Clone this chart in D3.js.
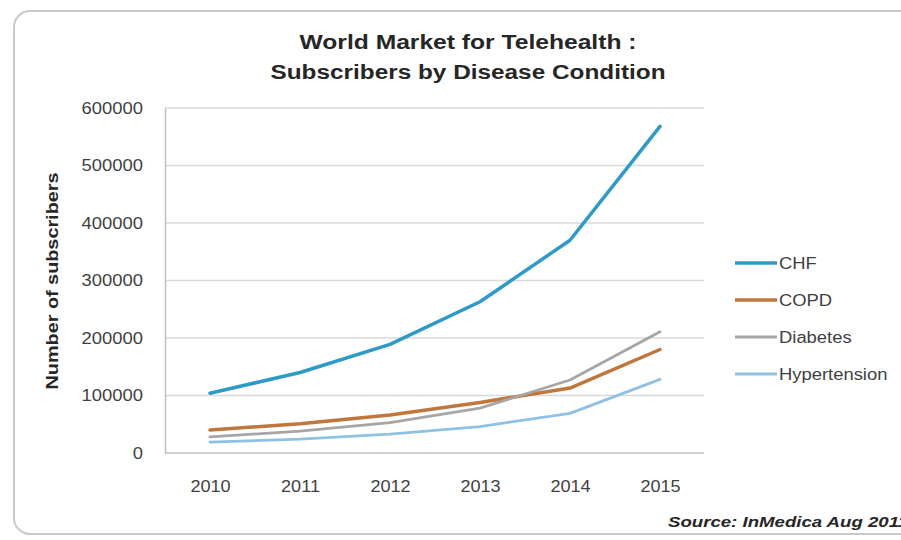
<!DOCTYPE html>
<html>
<head>
<meta charset="utf-8">
<script src="https://cdn.jsdelivr.net/npm/d3@7"></script>
<style>
  html, body { margin: 0; padding: 0; background: #ffffff; overflow: hidden; }
  svg { display: block; overflow: hidden; }
  text { font-family: "Liberation Sans", Arial, sans-serif; }
</style>
</head>
<body>
<svg id="chart" width="901" height="540"></svg>
<script>
// ---- data ----
const years = ["2010", "2011", "2012", "2013", "2014", "2015"];
const seriesNames = ["CHF", "COPD", "Diabetes", "Hypertension"];
const chf = [104000, 140000, 189000, 263000, 370000, 568000];
const copd = [40000, 51000, 66000, 88000, 113000, 180000];
const diabetes = [28000, 38000, 53000, 78000, 127000, 211000];
const hypertension = [19000, 24000, 33000, 46000, 69000, 128000];
const seriesColors = ["#2e9ac6", "#c0773d", "#a6a6a6", "#8fc1e3"];
const yTicks = [0, 100000, 200000, 300000, 400000, 500000, 600000];
const titleLines = ["World Market for Telehealth :", "Subscribers by Disease Condition"];
const yAxisTitle = "Number of subscribers";
const sourceText = "Source: InMedica Aug 2011";

const seriesValues = [chf, copd, diabetes, hypertension];
const series = seriesNames.map((n, i) => ({ name: n, values: seriesValues[i], color: seriesColors[i] }));

const svg = d3.select("#chart");

// stretch helper (reference text is horizontally widened)
function stretch(sel, factor) {
  sel.each(function () {
    const len = this.getComputedTextLength();
    d3.select(this).attr("textLength", len * factor).attr("lengthAdjust", "spacingAndGlyphs");
  });
  return sel;
}

// frame
svg.append("rect")
  .attr("x", 14).attr("y", 11)
  .attr("width", 930).attr("height", 523)
  .attr("rx", 16).attr("ry", 16)
  .attr("fill", "#ffffff")
  .attr("stroke", "#c9c9c9").attr("stroke-width", 2);

// scales
const x = d3.scalePoint().domain(years).range([165, 705]).padding(0.5);
const y = d3.scaleLinear().domain([0, 600000]).range([453, 108]);

// gridlines
svg.append("g")
  .selectAll("line")
  .data(yTicks.filter(d => d > 0))
  .join("line")
  .attr("x1", 165).attr("x2", 704)
  .attr("y1", d => y(d)).attr("y2", d => y(d))
  .attr("stroke", "#d9d9d9").attr("stroke-width", 1.5);

// y axis
const yAxis = svg.append("g")
  .attr("transform", "translate(165,0)")
  .call(d3.axisLeft(y).tickValues(yTicks).tickSize(0).tickPadding(22).tickFormat(d3.format("d")));
yAxis.select(".domain").attr("stroke", "#bfbfbf").attr("stroke-width", 1.5);
yAxis.selectAll("text")
  .attr("font-size", 16)
  .attr("fill", "#3f3f3f")
  .attr("font-family", "'Liberation Sans', Arial, sans-serif");
stretch(yAxis.selectAll("text"), 1.15);

// x axis
const xAxis = svg.append("g")
  .attr("transform", "translate(0,453)")
  .call(d3.axisBottom(x).tickSize(0).tickPadding(28));
xAxis.select(".domain").attr("stroke", "#bfbfbf").attr("stroke-width", 1.5)
  .attr("d", "M165,0H704");
xAxis.selectAll("text")
  .attr("font-size", 16)
  .attr("fill", "#3f3f3f")
  .attr("font-family", "'Liberation Sans', Arial, sans-serif");
stretch(xAxis.selectAll("text"), 1.13);

// lines
const line = d3.line()
  .x((d, i) => x(years[i]))
  .y(d => y(d))
  .curve(d3.curveLinear);

svg.append("g")
  .selectAll("path")
  .data(series)
  .join("path")
  .attr("d", d => line(d.values))
  .attr("fill", "none")
  .attr("stroke", d => d.color)
  .attr("stroke-width", (d, i) => i < 2 ? 3.5 : 2.8)
  .attr("stroke-linecap", "round")
  .attr("stroke-linejoin", "round");

// title
const title = svg.append("text")
  .attr("text-anchor", "middle")
  .attr("font-weight", "bold")
  .attr("font-size", 20)
  .attr("fill", "#262626");
title.selectAll("tspan")
  .data(titleLines)
  .join("tspan")
  .attr("x", 468)
  .attr("y", (d, i) => 49 + i * 30)
  .text(d => d);
title.selectAll("tspan").each(function (d, i) {
  d3.select(this).attr("textLength", i === 0 ? 337 : 395).attr("lengthAdjust", "spacingAndGlyphs");
});

// y axis title
svg.append("text")
  .attr("transform", "translate(58,281) rotate(-90)")
  .attr("text-anchor", "middle")
  .attr("font-weight", "bold")
  .attr("font-size", 16)
  .attr("fill", "#262626")
  .attr("textLength", 217)
  .attr("lengthAdjust", "spacingAndGlyphs")
  .text(yAxisTitle);

// legend
const legendYs = d3.scalePoint().domain(seriesNames).range([263, 374]);
const legend = svg.append("g")
  .selectAll("g")
  .data(series)
  .join("g")
  .attr("transform", d => `translate(735,${legendYs(d.name)})`);
legend.append("line")
  .attr("x1", 0).attr("x2", 42)
  .attr("stroke", d => d.color)
  .attr("stroke-width", (d, i) => i < 2 ? 3.5 : 2.8);
const legendText = legend.append("text")
  .attr("x", 44)
  .attr("dy", "0.35em")
  .attr("font-size", 16)
  .attr("fill", "#3f3f3f")
  .text(d => d.name);
stretch(legendText, 1.15);

// source
svg.append("text")
  .attr("x", 668)
  .attr("y", 527)
  .attr("font-size", 15)
  .attr("font-weight", "bold")
  .attr("font-style", "italic")
  .attr("fill", "#262626")
  .attr("textLength", 240)
  .attr("lengthAdjust", "spacingAndGlyphs")
  .text(sourceText);
</script>
</body>
</html>
